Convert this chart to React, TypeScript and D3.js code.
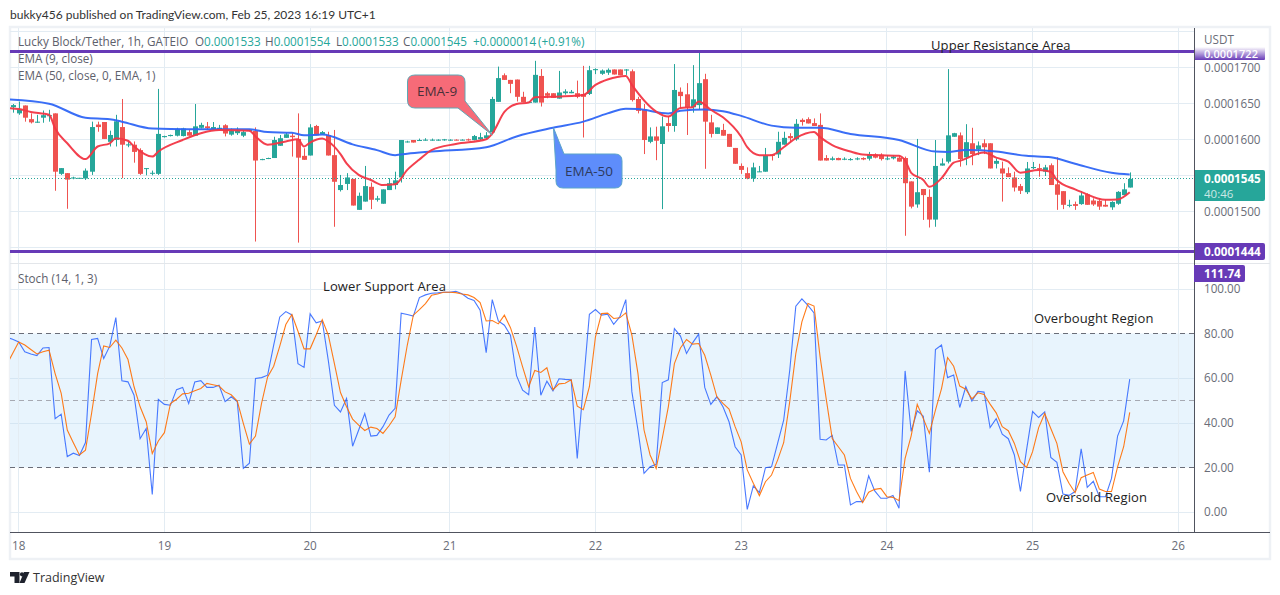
import * as d3 from 'd3';
import React from 'react';

// prices are in units of 1e-7 USDT, bars are hours counted from the "18" tick
const opens = [
  1644.5,1636,1647,1628,1623,1630,1632,1636,1552,1553,
  1545.5,1545.5,1545.5,1555,1620.5,1624,1596.5,1599,1617,1591.5,
  1592.5,1585,1559,1552.5,1552,1603,1604.5,1605,1604.5,1610,
  1605,1616,1618,1614,1614,1619.5,1606.5,1608.5,1605,1612,
  1611.5,1571.5,1573,1574,1591,1602,1605,1600.5,1577,1577.5,
  1618.5,1607,1606,1578,1529.5,1538,1545,1502,1513.5,1534,
  1516,1510.5,1529.5,1536.5,1547,1596,1599,1598,1598.5,
  1598.5,1598.5,1598.5,1598.5,1599.5,1599,1600,
  1599,1600,1601.5,1609.5,1652,1689,1682.5,1683,1659,1651,
  1651,1688,1664,1664,1656.5,1664,1664,1664,1663,1663,
  1696,1691,1692.5,1697,1697,1695.5,1694.5,1656,1641.5,1596.5,
  1604,1593.5,1622.5,1618.5,1666,1662.5,1644.5,1647.5,1683.5,1623.5,
  1607.5,1613,1607.5,1588,1563,1553,1545.5,1554.5,1555,1579,
  1579,1592.5,1604.5,1600,1627,1628,1622.5,1620,1574,1571.5,
  1574,1572,1571.5,1572,1574,1573,1579,1578.5,1572,1573.5,
  1574.5,1574,1541.5,1509.5,1531,1520,1488.5,1563.5,1569,1603.5,
  1605.5,1575,1594.5,1586,1594.5,1594.5,1566,1559.5,1553,1547,
  1535,1526.5,1560,1560,1555,1564,1537.5,1528,1508,1510,
  1510,1523.5,1515,1514.5,1509,1505.5,1510.5,1522.5,1533,
];
const highs = [
  1649,1652.5,1647,1636,1634,1640,1641,1636,1560,1553,
  1548,1546.5,1559.5,1624.5,1624.5,1624,1612,1634,1656,1597,
  1597,1587.5,1560,1556.5,1670,1605,1606.5,1616,1616,1614,
  1649,1623,1624,1624,1620,1621,1615,1616.5,1613,1614,
  1616.5,1573,1574.5,1603.5,1606,1609,1608.5,1636,1587.5,1621,
  1620,1611.5,1610.5,1613,1550.5,1553,1545,1526,1563,1540,
  1521.5,1530.5,1546,1555,1599,1598,1599,1601,1601.5,
  1601,1600,1600.5,1600,1600,1600,1601,
  1606,1609,1610,1659,1701,1691.5,1682.5,1683,1666,1652.5,
  1709,1697.5,1666,1664,1695,1669.5,1668.5,1681.5,1702,1702,
  1698.5,1697,1698.5,1697,1697,1697.5,1697,1659,1649,1616.5,
  1617.5,1631.5,1632.5,1704.5,1672,1678,1703,1723,1691,1634,
  1616.5,1621.5,1607.5,1588,1566.5,1561,1567.5,1563,1588,1579.5,
  1610.5,1610.5,1608.5,1628,1629,1630.5,1629,1636,1578,1576,
  1574.5,1575,1574,1575,1575,1582.5,1580.5,1580.5,1578,1578,
  1578,1576,1541.5,1600.5,1531,1530.5,1599,1573.5,1697.5,1609,
  1609.5,1621,1616,1597,1600,1594.5,1573.5,1569,1561,1555,
  1538,1568.5,1568.5,1566,1564.5,1566.5,1575,1528,1516,1513.5,
  1528,1525,1518,1518,1516.5,1514,1528,1539,1554,
];
const lows = [
  1637,1634,1624.5,1622,1623,1623,1624.5,1528.5,1550.5,1503.5,
  1544.5,1545.5,1543.5,1550.5,1610.5,1600.5,1590,1590,1546,1589,
  1567.5,1550.5,1550,1550,1550.5,1602.5,1604,1604,1604,1605,
  1605,1615,1613,1613,1613,1604,1605,1606,1603,1611,
  1458,1571,1572.5,1574,1591,1602,1576,1456.5,1571.5,1577.5,
  1605.5,1606,1577.5,1478.5,1527.5,1529.5,1508,1502,1513.5,1503,
  1513.5,1510.5,1529.5,1530.5,1540,1595.5,1595.5,1598,1598,
  1598,1598,1598,1598,1598.5,1598.5,1598,
  1598.5,1599,1600,1609.5,1652,1682.5,1664,1652.5,1651.5,1651,
  1651,1645.5,1657,1657.5,1656.5,1662,1664,1657,1602.5,1661.5,
  1690.5,1689.5,1689.5,1690,1689,1689.5,1652.5,1636,1579.5,1594.5,
  1571,1503,1610.5,1610.5,1643,1606,1637,1641,1559,1602.5,
  1607.5,1605,1589.5,1566,1552,1544.5,1541,1554.5,1555,1570.5,
  1574,1592.5,1595.5,1598,1619,1622,1618.5,1570.5,1570.5,1570.5,
  1571,1571,1570.5,1571,1571,1570.5,1573.5,1570.5,1571,1572,
  1569,1466,1504,1505,1488,1477.5,1478.5,1563.5,1566.5,1603.5,
  1562,1564,1564,1578,1579.5,1559.5,1559.5,1513.5,1547.5,1527.5,
  1524,1524,1558.5,1548,1549,1536.5,1502,1503,1505.5,1502,
  1509,1509,1507.5,1502,1506.5,1502,1509,1522.5,1533,
];
const closes = [
  1647.5,1641.5,1630,1623.5,1624.5,1633.5,1633.5,1555,1560,1544,
  1547,1546.5,1556.5,1617,1617,1600.5,1606,1625,1592.5,1593,
  1582.5,1552,1560,1553.5,1607.5,1604.5,1606,1614.5,1615,1605,
  1618,1620,1615.5,1617,1616,1608,1611.5,1612,1610,1613,
  1570.5,1572.5,1574,1599,1601.5,1607,1603,1574.5,1571.5,1616.5,
  1605.5,1610,1577.5,1541,1536.5,1547,1508,1521.5,1535,1516,
  1518,1530.5,1539,1543,1599,1597,1595.5,1599,1599.5,
  1599.5,1599.5,1600,1599.5,1599,1599.5,1598.5,
  1604.5,1603,1605.5,1656,1685,1682.5,1677,1659,1651.5,1652,
  1689.5,1651,1660.5,1657.5,1665,1666.5,1666,1659,1659,1696,
  1697.5,1695.5,1696.5,1690,1689,1697,1654.5,1639.5,1599,1604,
  1598,1618,1618.5,1668.5,1660,1644.5,1655.5,1678,1624.5,1607.5,
  1616.5,1605,1589.5,1566,1557.5,1545.5,1561,1555.5,1577.5,1577,
  1596.5,1602,1601.5,1621.5,1624,1622,1618.5,1570.5,1570.5,1573.5,
  1571,1573,1572.5,1573.5,1572,1579.5,1574.5,1572.5,1573.5,1576,
  1569,1539,1506.5,1526.5,1522.5,1488.5,1563,1566.5,1605.5,1608.5,
  1572.5,1596,1579.5,1591.5,1589,1559.5,1570,1552.5,1547.5,1533,
  1528.5,1559.5,1561.5,1559,1561,1536.5,1523,1509,1509,1507.5,
  1522,1509,1509.5,1506.5,1506.5,1513,1527,1530.5,1545,
];

const ema9Bars = [-2,0,2,5,6,8,11,13,15,16,18,19,22,23,27,30,33,38,39,41,44,46,47,48,50,51,53,54,56,58,60,62,64,66,68,72,77,78,80,82,84,85,88,93,95,97,100,101,105,107,109,111,112,114,116,119,120,122,124,126,128,131,132,134,137,139,145,146,147,149,150,152,154,155,159,161,163,165,168,170,171,174,175,179,181,183];
const ema9Values = [1643.5,1642,1638,1634,1615,1594.5,1572.5,1590,1594.5,1601.5,1598,1590,1576,1583,1599,1608.5,1613,1612,1604,1592.5,1597,1600,1590,1595.5,1601,1597,1579.5,1566.5,1550.5,1543.5,1536.5,1537.5,1557.5,1572,1585,1593.5,1600,1608,1638,1649,1651,1658.5,1659,1661.5,1675.5,1683,1688,1675.5,1638.5,1631.5,1643.5,1644.5,1652.5,1641,1630.5,1603.5,1589,1578,1578,1589,1601.5,1610,1603,1592,1583,1579,1577,1570.5,1553.5,1543.5,1534,1546,1567.5,1570,1581.5,1574.5,1569,1553.5,1557.5,1555,1543.5,1530.5,1527,1516,1516.5,1526.5];

const ema50Bars = [-2,5,11,15,17,22,28,38,41,45,47,50,55,59,62,64,68,77,82,88,93,97,100,102,107,109,113,116,119,124,128,132,137,145,151,153,156,161,166,170,174,180,183];
const ema50Values = [1655.5,1649.5,1630,1628,1624.5,1615,1614,1614,1610,1609,1605.5,1606.5,1593,1585,1578,1580,1583,1589,1604,1616,1624.5,1636,1642.5,1642,1636,1639.5,1641.5,1639,1632.5,1619,1616,1616,1607.5,1599,1583,1582.5,1585,1583,1577,1575,1566,1553.5,1551];

// one value per bar, from bar -2 (cut off by the pane edge) to 183
const stochK = [
  78.5,77.6,76.4,72,71,70.3,73.7,73.9,42,44,25,26.5,25.5,31.3,77.5,78,69,74.5,87.3,59,
  58.5,52.5,33,37.6,8,50.6,48.4,48,55,56,48.8,58.4,59,56,56,57,49.6,51.8,49.6,19.7,
  22,60,60.4,61.5,75,87.6,90,88.5,66.6,65,89,85,85.8,68,48,45,51,29.6,36.9,44.3,
  34.2,34.5,38.4,43.6,46.6,89.3,88.7,88,96.3,97.5,98.2,98.4,98.7,98.7,99.1,98,96,95,90.6,71.6,
  95.4,85.8,83.9,79.4,61.3,54.8,52.7,83.1,52.5,58.8,54.5,59.9,59.6,59.4,24.2,57,88.8,90.9,88.4,88.8,
  84.3,87.6,95.4,54,36.9,17.5,20.4,21.5,58.2,59.4,82.4,79,71.2,76,79.9,56,48.4,51.8,47.3,40.6,
  29.4,25.7,1.3,11.8,8.8,20,20.4,30.9,41.3,63.7,92.4,95.7,92.8,89.4,32.7,32.4,34.5,21.2,21.2,3.3,
  4.8,4.8,16.4,9.6,6.3,6.3,7.5,1.8,63.4,36.3,45.5,43.1,18,73,75,60.4,61.6,47,56.3,49.9,
  54.2,53.9,38,42,35,33,25.7,9.4,27.9,45.2,42.5,45,24.6,22.4,8.2,7.6,9.3,28.5,11.2,13.9,
  7,7,15.2,34.2,41,59.7,
];
const stochD = [
  66,71.2,76.4,75,73,71,72,72.7,62.2,53.3,36.9,31.2,25.7,27.9,44.3,62.2,74.6,73.9,77.2,73.7,
  68.5,56.3,47.3,40.6,26.4,32,35.7,48.8,50.7,53.1,53.4,54.5,55.5,57.8,57.2,56.6,54,52.7,49.9,39.9,
  30.6,34.2,48.8,60.7,65.5,74.5,84.2,88.7,81.2,73.3,73.3,79.6,86.4,79.4,66.7,53.7,47.3,41.8,39.1,36.7,
  38.2,37.6,35.4,38.8,42.8,59.3,74.9,88.4,90.9,93.6,97.3,97.9,98.7,98.7,98.5,97.9,97.5,96.3,94,85.8,
  86,84.5,88.4,82.8,74.5,65.2,56.3,63.6,62.7,64.8,55,57.6,57.9,59.4,47.6,46,56.3,78.7,89.1,89.3,
  86.9,87.2,89.4,79.4,62.2,36.9,25.7,19.7,33.1,47.3,66.7,73.7,77.5,75.4,75.7,70.4,61.5,51.8,48.8,46.3,
  38.4,31.6,19,13,7.5,13.7,16.7,23.4,31.2,49.6,71.2,85.4,93.6,92.5,69.7,51,33.1,29.4,25.7,15.2,
  9.3,4.3,9,10.3,10.7,7,6.7,5.2,24.2,34.3,48.4,42,35.4,45.8,55.5,69.4,65.5,56.6,55.2,50.9,
  53.6,52.8,48.5,44.6,38.4,36.6,30.9,22.7,20.1,27.2,38,44.3,37.6,30.9,18.2,13,8.8,15.5,16.7,17.9,
  10.4,9.3,9.3,20.4,29.4,44.8,
];

const dayLabels = ['18','19','20','21','22','23','24','25','26'];
const dayBars = [0,24,48,71,95,119,143,167,191];
const priceTicks = [1700,1650,1600,1500];
const priceGrid = [1750,1700,1650,1600,1550,1500,1450];
const stochTicks = [100,80,60,40,20,0];
const stochGrid = [100,60,40,0];

const upperLevel = 1722;
const lowerLevel = 1444;
const lastPrice = 1545;

const UP = '#26a69a';
const DOWN = '#ef5350';
const PURPLE = '#673ab7';
const GRID = '#e3ecf3';
const AXIS_TEXT = '#6a6d78';
const FONT = '"Open Sans", sans-serif';

const width = 1280;
const height = 595;
const plotLeft = 10;
const plotRight = 1194.5;

const x = d3.scaleLinear().domain([0, 191]).range([18.7, 1178.3]);
const y = d3.scaleLinear().domain([1500, 1700]).range([211.3, 67.3]);
const ys = d3.scaleLinear().domain([0, 100]).range([512.3, 289.3]);

const fmt = (p: number) => (p / 1e7).toFixed(7);
// keep 1px lines on a whole pixel
const crisp = (v: number) => Math.floor(v) + 0.5;

const App = () => {
  const ema9Path = d3
    .line<number>()
    .x((b) => x(b))
    .y((_, i) => y(ema9Values[i]))
    .curve(d3.curveMonotoneX)(ema9Bars);
  const ema50Path = d3
    .line<number>()
    .x((b) => x(b))
    .y((_, i) => y(ema50Values[i]))
    .curve(d3.curveMonotoneX)(ema50Bars);

  const stochLine = d3
    .line<number>()
    .x((_, i) => x(i - 2))
    .y((v) => ys(v));

  const legendLabels = ['O', 'H', 'L', 'C'];
  const legendLeft = [195, 265, 336, 403];

  return (
    <svg
      width={width}
      height={height}
      style={{ position: 'absolute', left: 0, top: 0, background: '#fff' }}
      fontFamily={FONT}
    >
      <defs>
        <clipPath id="pricePane">
          <rect x={plotLeft} y={28} width={plotRight - plotLeft} height={235} />
        </clipPath>
        <clipPath id="stochPane">
          <rect x={plotLeft} y={264} width={plotRight - plotLeft} height={268} />
        </clipPath>
        <linearGradient id="topLabel" x1="0" x2="0" y1="0" y2="1">
          <stop offset="0" stopColor="#fff" />
          <stop offset="1" stopColor={PURPLE} />
        </linearGradient>
      </defs>

      <text x={10} y={19} fontSize={12} fontFamily="Lato, sans-serif" fill="#333">
        bukky456 published on TradingView.com, Feb 25, 2023 16:19 UTC+1
      </text>

      {/* outer frame */}
      <rect x={10} y={27} width={1260} height={532} fill="none" stroke="#eef1f5" strokeWidth={2.5} />

      {/* grid */}
      {priceGrid.map((p) => (
        <line key={p} x1={plotLeft} x2={plotRight} y1={crisp(y(p))} y2={crisp(y(p))} stroke={GRID} />
      ))}
      <rect x={plotLeft} y={crisp(ys(80))} width={plotRight - plotLeft} height={crisp(ys(20)) - crisp(ys(80))} fill="#e8f4fd" />
      {stochGrid.map((v) => (
        <line key={v} x1={plotLeft} x2={plotRight} y1={crisp(ys(v))} y2={crisp(ys(v))} stroke={v === 60 || v === 40 ? '#d5e6f3' : GRID} />
      ))}
      {dayBars.map((b) => (
        <line key={b} x1={crisp(x(b))} x2={crisp(x(b))} y1={28} y2={532} stroke={GRID} />
      ))}
      <line x1={plotLeft} x2={1270} y1={263.5} y2={263.5} stroke="#e3e6ea" />

      {/* candles */}
      <g clipPath="url(#pricePane)">
        {opens.map((o, i) => {
          const c = closes[i];
          const color = c >= o ? UP : DOWN;
          const cx = Math.round(x(i - 1)) + 0.5;
          const top = y(Math.max(o, c));
          const bottom = y(Math.min(o, c));
          return (
            <g key={i}>
              <line x1={cx} x2={cx} y1={y(highs[i])} y2={y(lows[i])} stroke={color} />
              <rect x={cx - 2.5} y={top} width={5} height={Math.max(bottom - top, 1)} fill={color} />
            </g>
          );
        })}
        <line
          x1={plotLeft}
          x2={plotRight}
          y1={crisp(y(lastPrice))}
          y2={crisp(y(lastPrice))}
          stroke={UP}
          strokeDasharray="1 2"
        />
        <path d={ema50Path ?? ''} fill="none" stroke="#2f66f6" strokeWidth={2} opacity={0.95} />
        <path d={ema9Path ?? ''} fill="none" stroke="#f23645" strokeWidth={2} opacity={0.95} />
      </g>

      {/* levels */}
      <line x1={plotLeft} x2={plotRight} y1={y(upperLevel)} y2={y(upperLevel)} stroke={PURPLE} strokeWidth={3} />
      <line x1={plotLeft} x2={plotRight} y1={y(lowerLevel)} y2={y(lowerLevel)} stroke={PURPLE} strokeWidth={3} />

      {/* stochastic */}
      <line x1={plotLeft} x2={plotRight} y1={crisp(ys(80))} y2={crisp(ys(80))} stroke="#6a6d78" strokeDasharray="5 4" />
      <line x1={plotLeft} x2={plotRight} y1={crisp(ys(50))} y2={crisp(ys(50))} stroke="#a6a9b2" strokeDasharray="5 4" />
      <line x1={plotLeft} x2={plotRight} y1={crisp(ys(20))} y2={crisp(ys(20))} stroke="#6a6d78" strokeDasharray="5 4" />
      <g clipPath="url(#stochPane)" fill="none" strokeWidth={1.1}>
        <path d={stochLine(stochK) ?? ''} stroke="#2962ff" opacity={0.85} />
        <path d={stochLine(stochD) ?? ''} stroke="#ff6d00" opacity={0.9} />
      </g>

      {/* callouts, anchored on the lines they point at */}
      <path
        d={`M415 75 H458 Q465 75 465 82 V101 L${x(78)} ${y(1606)} L458 108 H415 Q407.5 108 407.5 100 V82 Q407.5 75 415 75 Z`}
        fill="#f66b78"
        stroke="#5fa8b5"
      />
      <text x={437} y={96} fontSize={13.5} fill="#4a3038" textAnchor="middle">EMA-9</text>
      <path
        d={`M${x(88) + 0.5} ${y(1616)} L564 154 H615 Q622 154 622 161 V181 Q622 188 615 188 H563 Q556 188 556 181 V170 Z`}
        fill="#5e8dfb"
        stroke="#5ba4c9"
      />
      <text x={589} y={176} fontSize={13.5} fill="#2d3a5e" textAnchor="middle">EMA-50</text>

      <g fontSize={13} fill="#222" letterSpacing={0.12}>
        <text x={931} y={50}>Upper Resistance Area</text>
        <text x={323} y={291}>Lower Support Area</text>
        <text x={1034} y={323}>Overbought Region</text>
        <text x={1046} y={502}>Oversold Region</text>
      </g>

      {/* legend */}
      <g fontSize={11.7} fill="#5d606b">
        <text x={18} y={46}>Lucky Block/Tether, 1h, GATEIO</text>
        {legendLabels.map((label, i) => (
          <text key={label} x={legendLeft[i]} y={46}>
            {label}
            <tspan fill={UP}>{fmt([opens[184], highs[184], lows[184], closes[184]][i])}</tspan>
          </text>
        ))}
        <text x={473} y={46} fill={UP}>+0.0000014</text>
        <text x={538} y={46} fill={UP}>(+0.91%)</text>
        <text x={18} y={63}>EMA (9, close)</text>
        <text x={18} y={80}>EMA (50, close, 0, EMA, 1)</text>
        <text x={18} y={283}>Stoch (14, 1, 3)</text>
      </g>

      {/* right axis */}
      <line x1={plotRight} x2={plotRight} y1={28} y2={532} stroke="#50535e" />
      <g fontSize={11.7} fill={AXIS_TEXT}>
        <text x={1204} y={44}>USDT</text>
        {priceTicks.map((p) => (
          <text key={p} x={1204} y={y(p) + 4.2}>{fmt(p)}</text>
        ))}
        {stochTicks.map((v) => (
          <text key={v} x={1204} y={ys(v) + 3.8}>{v.toFixed(2)}</text>
        ))}
      </g>

      <path d="M1195 47 H1265 V59 Q1265 60 1264 60 H1195 Z" fill="url(#topLabel)" />
      <text x={1204} y={57.5} fontSize={11} fontWeight={600} fill="#fff" textLength={54}>{fmt(upperLevel)}</text>

      <path d="M1195 170 H1263 Q1265 170 1265 172 V199 Q1265 201 1263 201 H1195 Z" fill={UP} />
      <text x={1204} y={182.5} fontSize={11.7} fontWeight={700} fill="#fff">{fmt(lastPrice)}</text>
      <text x={1204} y={197.5} fontSize={11.5} fill="#fff" opacity={0.75}>40:46</text>

      <path d="M1195 243 H1263 Q1265 243 1265 245 V258 Q1265 260 1263 260 H1195 Z" fill={PURPLE} />
      <text x={1204} y={256} fontSize={11.7} fontWeight={700} fill="#fff">{fmt(lowerLevel)}</text>

      <path d="M1194 265 H1243 Q1245 265 1245 267 V280 Q1245 282 1243 282 H1194 Z" fill={PURPLE} />
      <text x={1204} y={278} fontSize={11.7} fontWeight={700} fill="#fff">111.74</text>

      {/* bottom axis */}
      <line x1={plotLeft} x2={1270} y1={532.5} y2={532.5} stroke="#50535e" />
      <g fontSize={11.7} fill={AXIS_TEXT} textAnchor="middle">
        {dayBars.map((b, i) => (
          <text key={b} x={x(b)} y={550}>{dayLabels[i]}</text>
        ))}
      </g>

      {/* footer */}
      <g fill="#1e222d">
        <path d="M10 572 H19.5 V583 H14.5 V576.5 H10 Z" />
        <circle cx={22} cy={574.3} r={2.1} />
        <path d="M24 572 H29.5 L24.5 583 H19.5 Z" />
      </g>
      <text x={33} y={582} fontSize={12.5} fill="#333">TradingView</text>
    </svg>
  );
};

export default App;
